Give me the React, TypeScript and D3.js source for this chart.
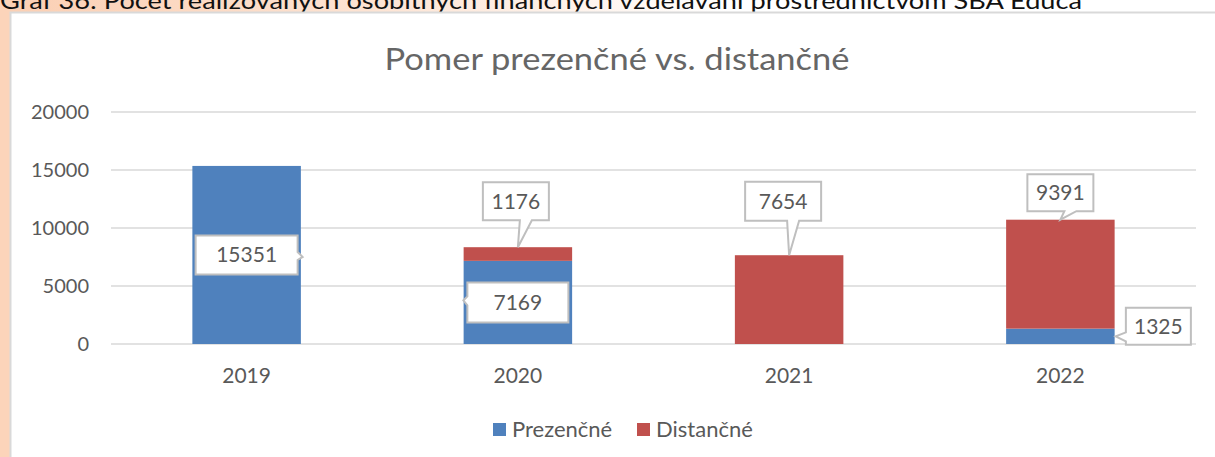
import React from 'react';
import * as d3 from 'd3';

const W = 1215;
const H = 457;

const caption = 'Graf 36: Počet realizovaných osobitných finančných vzdelávaní prostredníctvom SBA Educa';
const title = 'Pomer prezenčné vs. distančné';
const years = ['2019', '2020', '2021', '2022'];
const seriesNames = ['Prezenčné', 'Distančné'];
const prezencne = [15351, 7169, 0, 1325];
const distancne = [0, 1176, 7654, 9391];
const yTicks = [0, 5000, 10000, 15000, 20000];

const colors = ['#4f81bd', '#c0504d'];
const textColor = '#595959';
const font = 'Lato, "Open Sans", sans-serif';

// callout placement, relative to the anchor of its segment
// anchor: 'mid' = middle of segment, 'top' = top of segment
const callouts: Record<string, any> = {
  'Prezenčné-2019': { anchor: 'mid', dx: 0, dy: 0, w: 102, h: 39, tail: 'right' },
  'Prezenčné-2020': { anchor: 'mid', dx: 0, dy: 0, w: 101, h: 40, tail: 'left' },
  'Prezenčné-2022': { anchor: 'mid', dx: 98, dy: -10, w: 65, h: 37, tail: 'left' },
  'Distančné-2020': { anchor: 'top', dx: -2, dy: -46, w: 66, h: 38, tail: 'bottom' },
  'Distančné-2021': { anchor: 'top', dx: -6, dy: -54, w: 76, h: 39, tail: 'bottom' },
  'Distančné-2022': { anchor: 'top', dx: 0, dy: -27, w: 66, h: 37, tail: 'bottom' },
};

function calloutPath(cx: number, cy: number, w: number, h: number, tail: string, tx: number, ty: number) {
  const x0 = cx - w / 2, x1 = cx + w / 2, y0 = cy - h / 2, y1 = cy + h / 2;
  if (tail === 'bottom') {
    const b1 = Math.max(x0 + 4, Math.min(tx, cx) + 4);
    const b2 = b1 + 12;
    return `M${x0},${y0}H${x1}V${y1}H${b2}L${tx},${ty}L${b1},${y1}H${x0}Z`;
  }
  if (tail === 'left') {
    return `M${x0},${y0}H${x1}V${y1}H${x0}V${ty + 5}L${tx},${ty}L${x0},${ty - 4}Z`;
  }
  return `M${x0},${y0}H${x1}V${ty - 5}L${tx},${ty}L${x1},${ty + 3}V${y1}H${x0}Z`;
}

export default function App() {
  const x = d3.scaleBand().domain(years).range([111, 1196]).paddingInner(0.6).paddingOuter(0.3);
  const y = d3.scaleLinear().domain([0, 20000]).range([344, 112]);

  const rows = years.map((yr, i) => ({ year: yr, 'Prezenčné': prezencne[i], 'Distančné': distancne[i] }));
  const stacked = d3.stack<any>().keys(seriesNames)(rows);

  const legendItems = [
    { name: seriesNames[0], x: 493 },
    { name: seriesNames[1], x: 637 },
  ];

  return (
    <div style={{ position: 'absolute', left: 0, top: 0 }}>
      <svg width={W} height={H} style={{ display: 'block' }} fontFamily={font}>
        <defs>
          <linearGradient id="peach" x1="0" x2="1" y1="0" y2="0">
            <stop offset="0" stopColor="#fbcfb3" />
            <stop offset="0.3" stopColor="#fde3d2" />
            <stop offset="0.6" stopColor="#ffffff" />
          </linearGradient>
        </defs>
        <rect x={0} y={0} width={W} height={H} fill="#fff" />
        <rect x={0} y={0} width={W} height={13} fill="url(#peach)" />
        <rect x={0} y={0} width={10} height={H} fill="#fcd4ba" />
        <text x={0} y={9} fontSize={24} fill="#111"
          textLength={1082} lengthAdjust="spacingAndGlyphs">{caption}</text>

        <rect x={10.5} y={12.5} width={W + 10} height={H + 10} fill="#fff" stroke="#d9d9d9" strokeWidth={2} />

        <text x={617} y={70} textAnchor="middle" fontSize={31} fill="#666"
          textLength={465} lengthAdjust="spacingAndGlyphs">{title}</text>

        {yTicks.map(t => (
          <g key={t}>
            <line x1={111} x2={1196} y1={y(t)} y2={y(t)} stroke="#d9d9d9" strokeWidth={1.5} />
            <text x={89} y={y(t) + 7} textAnchor="end" fontSize={20} fill={textColor}>{t}</text>
          </g>
        ))}

        {stacked.map((s, si) => (
          <g key={s.key}>
            {s.map((d, i) => d[1] - d[0] > 0 && (
              <rect key={i} x={x(years[i])} width={x.bandwidth()} y={y(d[1])} height={y(d[0]) - y(d[1])} fill={colors[si]} />
            ))}
          </g>
        ))}

        {years.map(yr => (
          <text key={yr} x={(x(yr) as number) + x.bandwidth() / 2} y={383} textAnchor="middle" fontSize={21} fill={textColor}>{yr}</text>
        ))}

        {stacked.map(s => s.map((d, i) => {
          const v = d[1] - d[0];
          if (v <= 0) return null;
          const c = callouts[`${s.key}-${years[i]}`];
          const bx = (x(years[i]) as number);
          const mid = bx + x.bandwidth() / 2;
          const ay = c.anchor === 'top' ? y(d[1]) : (y(d[0]) + y(d[1])) / 2;
          const cx = mid + c.dx;
          const cy = ay + c.dy;
          let tx = mid, ty = ay;
          if (c.tail === 'right') { tx = cx + c.w / 2 + 5; ty = cy + 2; }
          if (c.tail === 'left') {
            tx = c.dx > 0 ? bx + x.bandwidth() + 1 : cx - c.w / 2 - 4;
            ty = c.dx > 0 ? ay : cy - 2;
          }
          return (
            <g key={`${s.key}-${i}`}>
              <path d={calloutPath(cx, cy, c.w, c.h, c.tail, tx, ty)} fill="#fff" stroke="#bfbfbf" strokeWidth={2} />
              <text x={cx} y={cy + 7.5} textAnchor="middle" fontSize={21} fill={textColor}>{v}</text>
            </g>
          );
        }))}

        {legendItems.map((l, i) => (
          <g key={l.name}>
            <rect x={l.x} y={423} width={13} height={13} fill={colors[i]} />
            <text x={l.x + 19} y={437} fontSize={22} fill={textColor}>{l.name}</text>
          </g>
        ))}
      </svg>
    </div>
  );
}
